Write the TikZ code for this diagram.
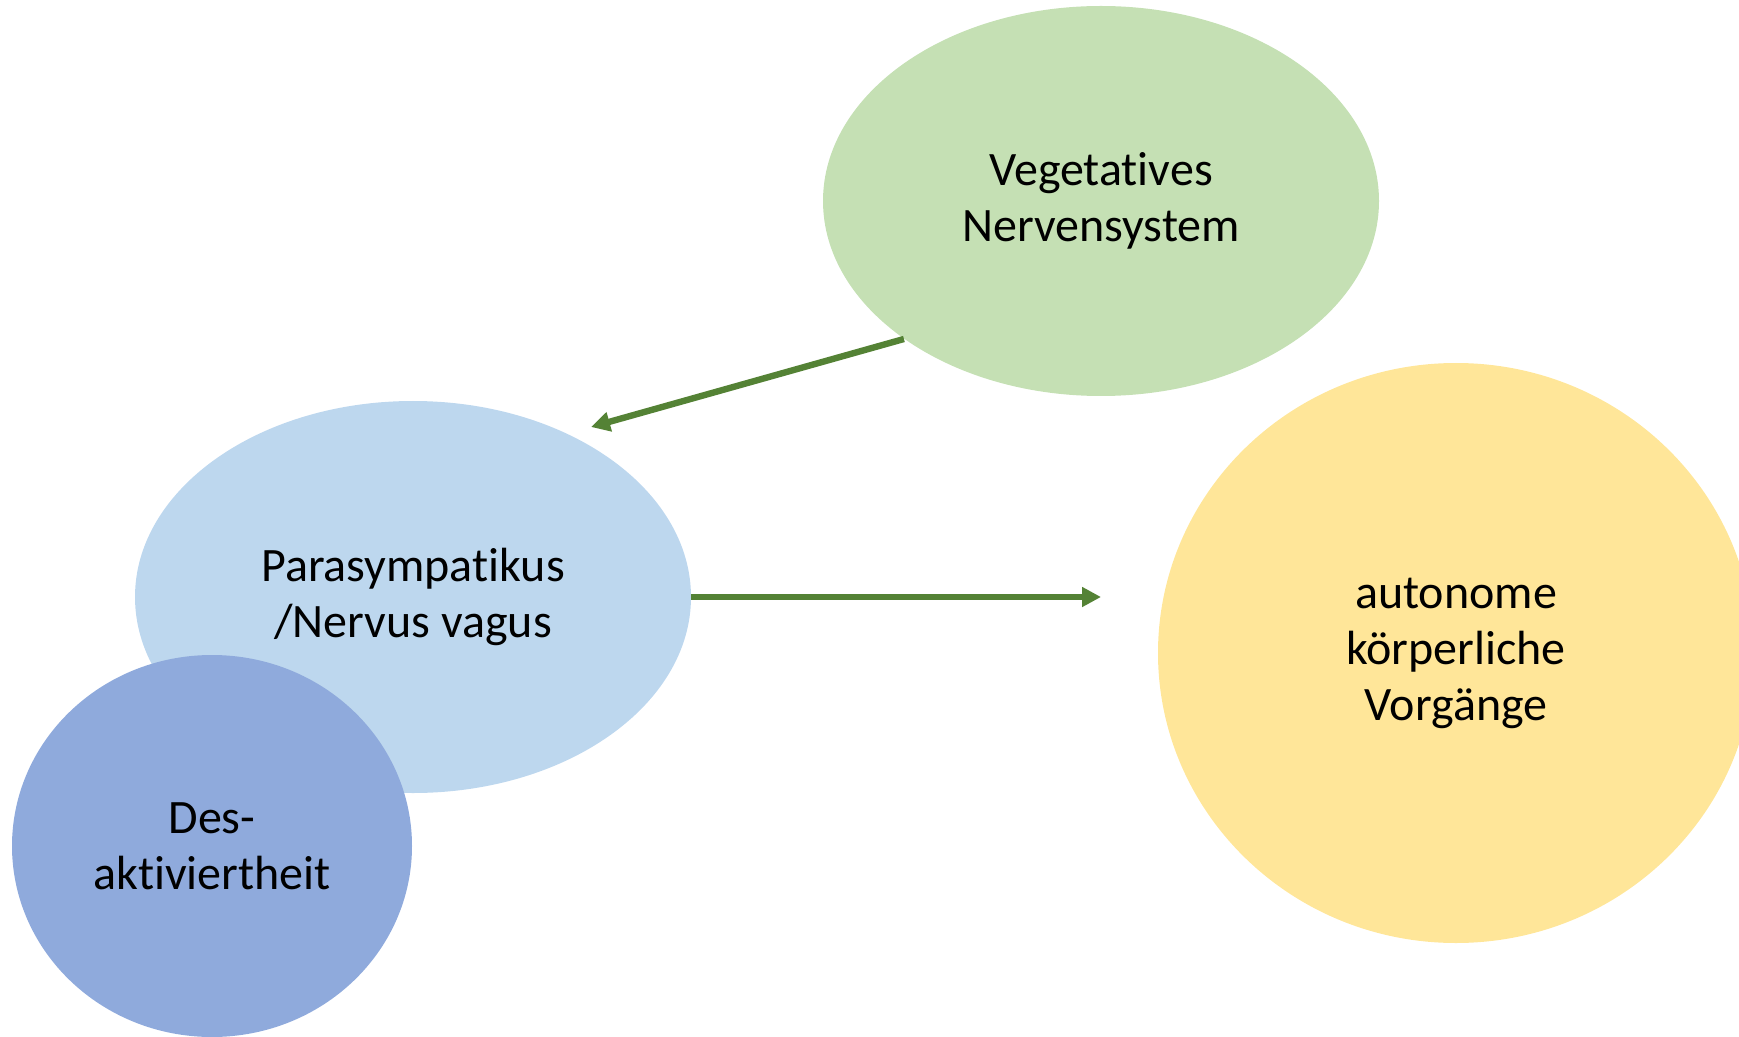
\documentclass[tikz,border=0pt]{standalone}
\usepackage{fontspec}
\setmainfont{Carlito}[Ligatures=NoCommon]
\usetikzlibrary{shapes.geometric}
\usetikzlibrary{arrows.meta}
\definecolor{vegfill}{HTML}{C5E0B4}
\definecolor{vagusfill}{HTML}{BDD7EE}
\definecolor{restfill}{HTML}{8FAADC}
\definecolor{bodyfill}{HTML}{FFE699}
\definecolor{linkgreen}{HTML}{548235}

\begin{document}
\begin{tikzpicture}[x=0.5pt, y=-0.5pt,
        bubble/.style={ellipse, inner sep=0pt, align=center, text=black, font=\fontsize{24}{28}\selectfont},
        system/.style={bubble, fill=vegfill, minimum width=278pt, minimum height=195pt},
        branch/.style={bubble, fill=vagusfill, minimum width=278pt, minimum height=196pt},
        effect/.style={bubble, fill=restfill, minimum width=200pt, minimum height=191pt},
        target/.style={bubble, fill=bodyfill, minimum width=298pt, minimum height=290pt},
        link/.style={draw=linkgreen, line width=3.2pt, -{Triangle[length=9.5pt, width=9.5pt]}}
      ]
        \clip (0,0) rectangle (1739,1037);

        \node[system]  (veg)    at (1101,201)   {Vegetatives\\Nervensystem};
        \node[branch]  (vagus)  at (413,597)    {Parasympatikus\\/Nervus vagus};
        \node[effect]  (rest)   at (212,846)    {Des-\\aktiviertheit};
        \node[target]  (body)   at (1456,653)   {autonome\\körperliche\\Vorgänge};

        \coordinate (vagustip) at (591,427);
        \coordinate (bodytip)  at (1101,597);

        \draw[link]  (veg.215) -- (vagustip);
        \draw[link]  (vagus.east) -- (bodytip);
      \end{tikzpicture}
\end{document}
